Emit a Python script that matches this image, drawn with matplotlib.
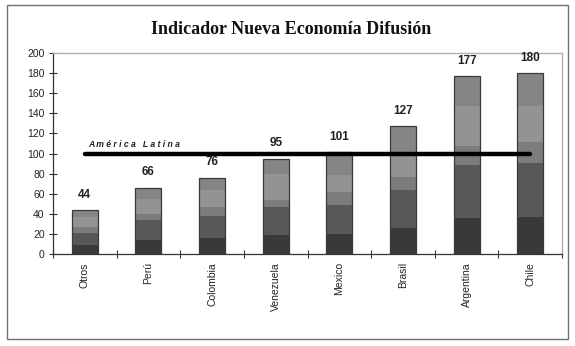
import matplotlib.pyplot as plt
import numpy as np
from matplotlib.patches import Rectangle

plt.rcParams['font.family'] = ['Liberation Sans', 'DejaVu Sans']

countries = ["Otros", "Perú", "Colombia", "Venezuela", "Mexico", "Brasil", "Argentina", "Chile"]
totals = [44, 66, 76, 95, 101, 127, 177, 180]
# stacked components, bottom to top
seg1 = [9, 14, 16, 19, 20, 26, 36, 37]
seg2 = [12, 20, 22, 28, 29, 38, 53, 54]
seg3 = [6, 6, 9, 7, 13, 13, 18, 20]
seg4 = [10, 15, 17, 26, 17, 24, 40, 36]
seg5 = [7, 11, 12, 15, 22, 26, 30, 33]
latam = [100, 100, 100, 100, 100, 100, 100, 100]

segs = [seg1, seg2, seg3, seg4, seg5]
colors = ['#393939', '#585858', '#7c7c7c', '#939393', '#858585']

fig = plt.figure(figsize=(5.75, 3.46), dpi=100)
ax = fig.add_axes([53/575, 1 - 254/346, 509/575, 201/346])

x = np.arange(len(countries))
bottom = np.zeros(len(countries))
for s, c in zip(segs, colors):
  ax.bar(x, s, 0.41, bottom=bottom, color=c, edgecolor=c, linewidth=0, zorder=2)
  bottom += np.array(s)
# outline of each bar
ax.bar(x, totals, 0.41, fill=False, edgecolor='#3a3a3a', linewidth=0.9, zorder=3)

for xi, t in zip(x, totals):
  ax.annotate(str(t), (xi, t), xytext=(0, 11), textcoords='offset points',
              ha='center', va='center', fontsize=8.5, fontweight='bold', color='#222222')

ax.plot(x, latam, color='black', linewidth=3.2, solid_capstyle='round', zorder=4)
ax.text(0.05, 109, "A m é r i c a   L a t i n a", fontsize=6.2, fontstyle='italic',
        fontweight='bold', color='#222222', va='center', ha='left')

ax.set_xlim(-0.5, 7.5)
ax.set_ylim(0, 200)
ax.set_yticks(np.arange(0, 201, 20))
ax.set_xticks(x)
ax.set_xticklabels(countries, rotation=90, fontsize=7.5, color='#222222')
ax.set_xticks(np.arange(-0.5, 7.6, 1), minor=True)
ax.tick_params(axis='x', which='major', length=0, pad=6)
ax.tick_params(axis='x', which='minor', direction='inout', length=6, width=0.8, color='#333333')
ax.tick_params(axis='y', direction='inout', length=6, width=0.8, color='#333333',
               labelsize=7.5, labelcolor='#222222', pad=3)

for side in ['left', 'bottom']:
  ax.spines[side].set_color('#333333')
  ax.spines[side].set_linewidth(0.9)
for side in ['top', 'right']:
  ax.spines[side].set_color('#b0b0b0')
  ax.spines[side].set_linewidth(1.0)

fig.text(0.506, 1 - 30/346, "Indicador Nueva Economía Difusión", ha='center', va='center',
         fontsize=13, fontweight='bold', family='Liberation Serif', color='#111111')

fig.patches.append(Rectangle((7/575, 7/346), 561/575, 334/346, transform=fig.transFigure,
                             fill=False, edgecolor='#707070', linewidth=1.0))

fig.savefig('out.png', dpi=100)
